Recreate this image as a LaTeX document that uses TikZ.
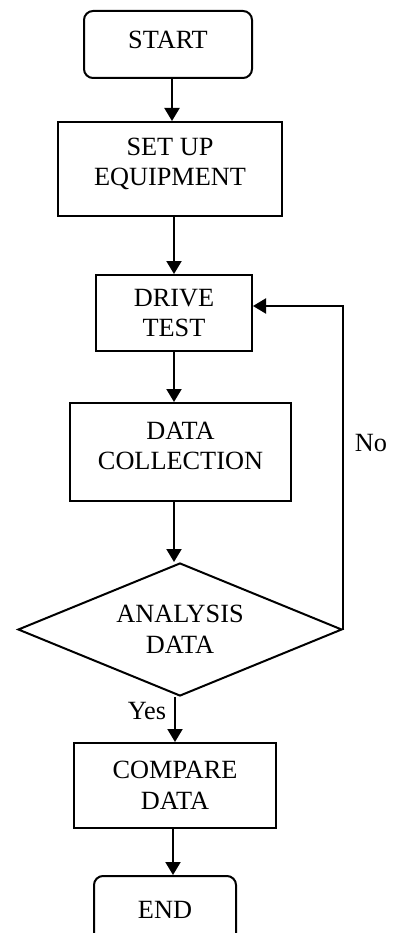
\documentclass[tikz,border=0pt]{standalone}
\usepackage{fontspec}
\setmainfont{Liberation Serif}
\usetikzlibrary{arrows.meta,shapes.geometric}
\begin{document}
\begin{tikzpicture}[x=1pt,y=-1pt,
  lbl/.style={font=\fontsize{26.3}{30.5}\selectfont, align=center},
  box/.style={lbl, draw, line width=2pt, inner sep=0pt},
  rbox/.style={box, rounded corners=9pt},
  dec/.style={lbl, draw, line width=2pt, diamond, aspect=2.44, inner sep=0pt, minimum width=324pt, minimum height=133pt},
  arr/.style={line width=2pt, -{Triangle[length=13pt,width=15pt]}}]
\useasboundingbox (0,0) rectangle (399,933);
\clip (0,0) rectangle (399,933);
\node[rbox, minimum width=168pt, minimum height=67pt] (start) at (168,44.5) {};
\node[lbl] (starttext) at (168,40) {START};
\node[box, minimum width=224pt, minimum height=94pt] (setup) at (170,169) {};
\node[lbl] (setuptext) at (170,164) {SET UP\\EQUIPMENT};
\node[box, minimum width=156pt, minimum height=76pt] (drive) at (174,313) {DRIVE\\TEST};
\node[box, minimum width=221pt, minimum height=98pt] (collect) at (180.5,452) {};
\node[lbl] (collecttext) at (180.5,446) {DATA\\COLLECTION};
\node[dec] (analysis) at (180,629.5) {ANALYSIS\\DATA};
\node[box, minimum width=202pt, minimum height=85pt] (compare) at (175,785.5) {COMPARE\\DATA};
\node[rbox, minimum width=142pt, minimum height=67pt] (end) at (165,909.5) {END};
\node[lbl] (no) at (371,443) {No};
\node[lbl] (yes) at (147,711) {Yes};
\draw[arr] ([xshift=4pt]start.south) -- ([xshift=2pt]setup.north);
\draw[arr] ([xshift=4pt]setup.south) -- (drive.north);
\draw[arr] (drive.south) -- ([xshift=-6.5pt]collect.north);
\draw[arr] ([xshift=-6.5pt]collect.south) -- ([xshift=-6pt]analysis.north);
\draw[arr] ([xshift=-5pt]analysis.south) -- (compare.north);
\draw[arr] ([xshift=-2pt]compare.south) -- ([xshift=8pt]end.north);
\draw[arr] (analysis.east) |- ([yshift=7pt]drive.east);
\end{tikzpicture}
\end{document}
